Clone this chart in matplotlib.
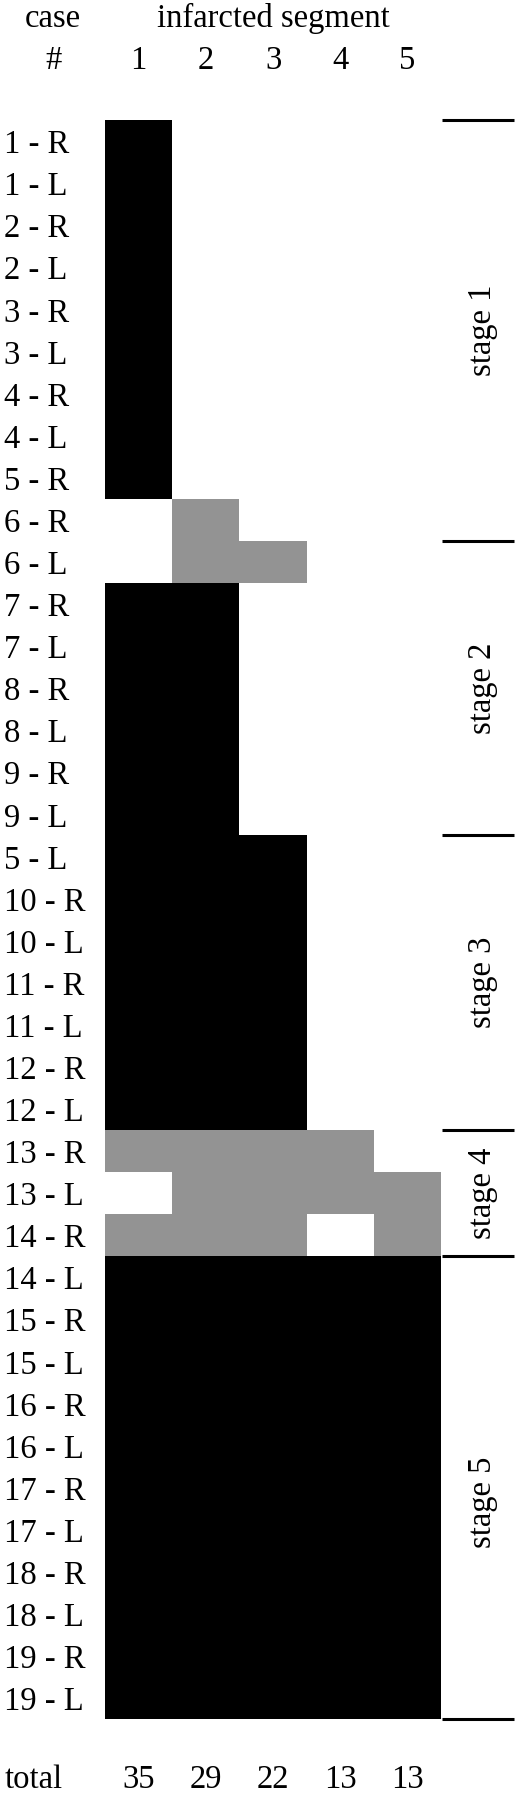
import matplotlib
matplotlib.use("Agg")
import matplotlib.pyplot as plt
from matplotlib.colors import ListedColormap
import numpy as np

plt.rcParams['font.family'] = ['Liberation Serif', 'DejaVu Serif']

#data
cases = ["1 - R", "1 - L", "2 - R", "2 - L", "3 - R", "3 - L", "4 - R", "4 - L", "5 - R",
         "6 - R", "6 - L",
         "7 - R", "7 - L", "8 - R", "8 - L", "9 - R", "9 - L",
         "5 - L", "10 - R", "10 - L", "11 - R", "11 - L", "12 - R", "12 - L",
         "13 - R", "13 - L", "14 - R",
         "14 - L", "15 - R", "15 - L", "16 - R", "16 - L", "17 - R", "17 - L",
         "18 - R", "18 - L", "19 - R", "19 - L"]
segments = ["1", "2", "3", "4", "5"]
# 0 = none, 1 = black, 2 = gray
infarct = (
    [[1, 0, 0, 0, 0]] * 9 +
    [[0, 2, 0, 0, 0],
     [0, 2, 2, 0, 0]] +
    [[1, 1, 0, 0, 0]] * 6 +
    [[1, 1, 1, 0, 0]] * 7 +
    [[2, 2, 2, 2, 0],
     [0, 2, 2, 2, 2],
     [2, 2, 2, 0, 2]] +
    [[1, 1, 1, 1, 1]] * 11
)
totals = [35, 29, 22, 13, 13]
stage_names = ["stage 1", "stage 2", "stage 3", "stage 4", "stage 5"]
stage_bounds = [0, 10, 17, 24, 27, 38]
stage_label_pos = [5, 13.5, 20.5, 25.5, 32.85]

grid = np.array(infarct)
nrow, ncol = grid.shape

fig = plt.figure(figsize=(5.18, 18), dpi=100)
ax = fig.add_axes([105/518, 1 - 1719/1800, 336/518, 1599/1800])
cmap = ListedColormap(["white", "black", "#939393"])
ax.pcolormesh(np.arange(ncol + 1), np.arange(nrow + 1), grid, cmap=cmap,
              vmin=-0.5, vmax=2.5, edgecolors="none")
ax.set_xlim(0, ncol)
ax.set_ylim(nrow, 0)
ax.axis("off")

fs = 23.5
for i, c in enumerate(cases):
    ax.text(-1.5, i + 0.79, c, fontsize=fs, ha="left", va="baseline", clip_on=False)

ax.text(-0.77, -2.22, "case", fontsize=fs, ha="center", va="baseline")
ax.text(-0.77, -1.21, "#", fontsize=fs, ha="center", va="baseline")
ax.text(ncol / 2, -2.22, "infarcted segment", fontsize=fs, ha="center", va="baseline")
for j, s in enumerate(segments):
    ax.text(j + 0.5, -1.21, s, fontsize=fs, ha="center", va="baseline")

ax.text(-1.5, nrow + 1.64, "total", fontsize=fs, ha="left", va="baseline")
for j, t in enumerate(totals):
    ax.text(j + 0.5, nrow + 1.64, str(t), fontsize=fs, ha="center", va="baseline")

#stage markers
ax.hlines(stage_bounds, ncol + 0.01, ncol + 1.09, colors="black", lw=2.2, clip_on=False)
for name, pos in zip(stage_names, stage_label_pos):
    ax.text(ncol + 0.62, pos, name, fontsize=fs, rotation=90, ha="center", va="center")

fig.savefig("out.png", dpi=100)
